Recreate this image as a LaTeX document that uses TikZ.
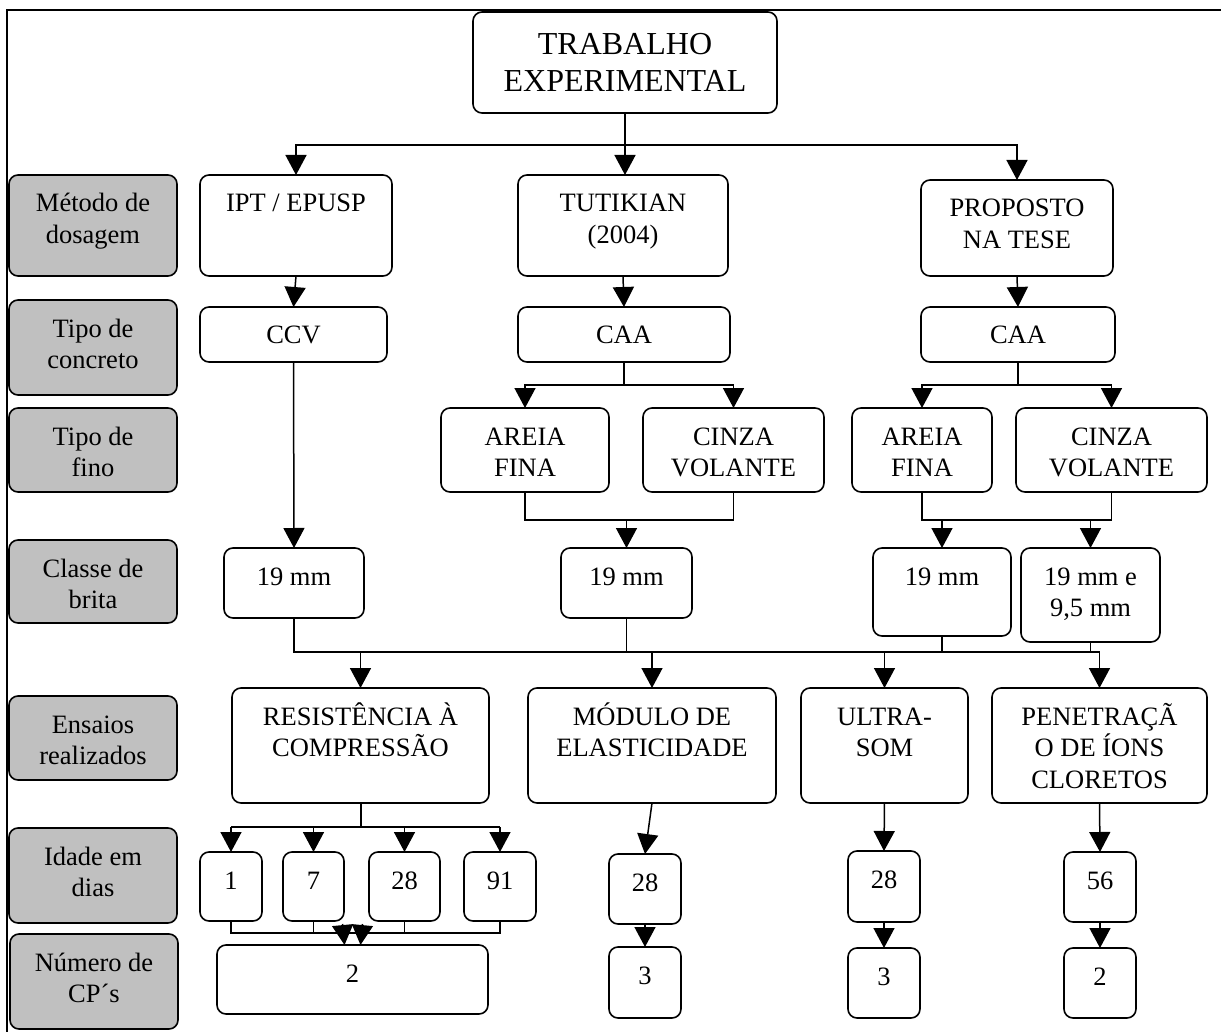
\documentclass[tikz,border=0pt]{standalone}
\usepackage{fontspec}
\setmainfont{Liberation Serif}
\usetikzlibrary{arrows.meta}
\definecolor{lblgray}{RGB}{192,192,192}
\tikzset{
  box/.style={draw=black, line width=1.6pt, rounded corners=9pt, inner sep=0pt, outer sep=0pt, fill=white},
  graybox/.style={box, fill=lblgray},
  txt/.style={anchor=north, inner sep=0pt, outer sep=0pt, align=center, font=\fontsize{26.5}{31.5}\selectfont},
  ln/.style={draw=black, line width=1.5pt},
  bus/.style={draw=black, line width=2.6pt},
  arr/.style={-{Triangle[length=20pt,width=21pt]}}
}
\newcommand\mkbox[7]{%
  \node[box,#6,minimum width={(#4-#2)*1pt},minimum height={(#5-#3)*1pt}] (#1) at ({(#2+#4)/2},{(#3+#5)/2}) {};
  \node[txt] (#1t) at ([yshift=-13pt]#1.north) {\rule{0pt}{24pt}#7};
}
\begin{document}
\begin{tikzpicture}[x=1pt,y=-1pt]
\useasboundingbox (0,0) rectangle (1221,1032);
% frame
\draw[line width=2pt] (7,1032) -- (7,10) -- (1221,10);

% title
\node[box,minimum width=304pt,minimum height=101pt] (title) at (625,62.5) {};
\node[txt,font=\fontsize{32}{37}\selectfont] (titlet) at ([yshift=-15pt]title.north) {\rule{0pt}{28pt}TRABALHO\\EXPERIMENTAL};

% gray labels
\mkbox{g1}{9}{175}{177}{276}{graybox}{Método de\\dosagem}
\mkbox{g2}{9}{300}{177}{395}{graybox}{Tipo de\\concreto}
\mkbox{g3}{9}{408}{177}{492}{graybox}{Tipo de\\fino}
\mkbox{g4}{9}{540}{177}{623}{graybox}{Classe de\\brita}
\mkbox{g5}{9}{696}{177}{780}{graybox}{Ensaios\\realizados}
\mkbox{g6}{9}{828}{177}{923}{graybox}{Idade em\\dias}
\mkbox{g7}{10}{934}{178}{1029}{graybox}{Número de\\CP´s}

% row 1
\mkbox{ipt}{200}{175}{392}{276}{}{IPT / EPUSP}
\mkbox{tut}{518}{175}{728}{276}{}{TUTIKIAN\\(2004)}
\mkbox{prop}{921}{180}{1113}{276}{}{PROPOSTO\\NA TESE}
% row 2
\mkbox{ccv}{200}{307}{387}{362}{}{CCV}
\mkbox{caa1}{518}{307}{730}{362}{}{CAA}
\mkbox{caa2}{921}{307}{1115}{362}{}{CAA}
% row 3
\mkbox{af1}{441}{408}{609}{492}{}{AREIA\\FINA}
\mkbox{cv1}{643}{408}{824}{492}{}{CINZA\\VOLANTE}
\mkbox{af2}{852}{408}{992}{492}{}{AREIA\\FINA}
\mkbox{cv2}{1016}{408}{1207}{492}{}{CINZA\\VOLANTE}
% row 4
\mkbox{b1}{224}{548}{364}{618}{}{19 mm}
\mkbox{b2}{561}{548}{692}{618}{}{19 mm}
\mkbox{b3}{873}{548}{1011}{636}{}{19 mm}
\mkbox{b4}{1021}{548}{1160}{642}{}{19 mm e\\9,5 mm}
% row 5
\mkbox{e1}{232}{688}{489}{803}{}{RESISTÊNCIA À\\COMPRESSÃO}
\mkbox{e2}{528}{688}{776}{803}{}{MÓDULO DE\\ELASTICIDADE}
\mkbox{e3}{801}{688}{968}{803}{}{ULTRA-\\SOM}
\mkbox{e4}{992}{688}{1207}{803}{}{PENETRAÇÃ\\O DE ÍONS\\CLORETOS}
% row 6
\mkbox{d1}{200}{852}{262}{921}{}{1}
\mkbox{d7}{283}{852}{344}{921}{}{7}
\mkbox{d28}{369}{852}{440}{921}{}{28}
\mkbox{d91}{464}{852}{536}{921}{}{91}
\mkbox{m28}{609}{854}{681}{924}{}{28}
\mkbox{u28}{848}{851}{920}{922}{}{28}
\mkbox{p56}{1064}{852}{1136}{922}{}{56}
% row 7
\mkbox{n2}{217}{945}{488}{1014}{}{2}
\mkbox{m3}{609}{947}{681}{1018}{}{3}
\mkbox{u3}{848}{948}{920}{1018}{}{3}
\mkbox{p2}{1064}{948}{1136}{1018}{}{2}

% connectors: title -> methods
\coordinate (j0) at (625,145);
\draw[ln] (title.south) -- (j0);
\draw[ln,arr] (j0) -| (ipt.north);
\draw[ln,arr] (j0) -- (j0 |- tut.north);
\draw[ln,arr] (j0) -| (prop.north);

% methods -> concrete types
\draw[ln,arr] (ipt.south) -- (ccv.north);
\draw[ln,arr] (tut.south) -- (caa1.north);
\draw[ln,arr] (prop.south) -- (caa2.north);
\draw[ln,arr] (ccv.south) -- (b1.north);

% concrete -> fines
\coordinate (j1) at (624,385);
\draw[ln] (caa1.south) -- (j1);
\draw[ln,arr] (j1) -| (af1.north);
\draw[ln,arr] (j1) -| (cv1.north);
\coordinate (j2) at (1018,385);
\draw[ln] (caa2.south) -- (j2);
\draw[ln,arr] (j2) -| (af2.north);
\draw[ln,arr] (j2) -| (cv2.north);

% fines -> brita
\coordinate (y520) at (0,520);
\draw[ln] (af1.south) |- (y520 -| cv1.south) -- (cv1.south);
\draw[ln,arr] (y520 -| b2.north) -- (b2.north);
\draw[ln] (af2.south) |- (y520 -| cv2.south) -- (cv2.south);
\draw[ln,arr] (y520 -| b3.north) -- (b3.north);
\draw[ln,arr] (y520 -| b4.north) -- (b4.north);

% brita -> tests (bus)
\coordinate (y652) at (0,652);
\draw[bus] (b1.south) |- (y652 -| e4.north);
\draw[ln] (b2.south) -- (y652 -| b2.south);
\draw[ln] (b3.south) -- (y652 -| b3.south);
\draw[ln] (b4.south) -- (y652 -| b4.south);
\draw[ln,arr] (y652 -| e1.north) -- (e1.north);
\draw[ln,arr] (y652 -| e2.north) -- (e2.north);
\draw[ln,arr] (y652 -| e3.north) -- (e3.north);
\draw[ln,arr] (y652 -| e4.north) -- (e4.north);

% compressao -> ages
\coordinate (y827) at (0,827);
\draw[ln,line width=2pt] (e1.south) -- (y827 -| e1.south);
\draw[ln,line width=2pt] (y827 -| d1.north) -- (y827 -| d91.north);
\draw[ln,arr] (y827 -| d1.north) -- (d1.north);
\draw[ln,arr] (y827 -| d7.north) -- (d7.north);
\draw[ln,arr] (y827 -| d28.north) -- (d28.north);
\draw[ln,arr] (y827 -| d91.north) -- (d91.north);

% ages -> number 2
\coordinate (y933) at (0,933);
\draw[ln] (d1.south) |- (y933 -| d91.south) -- (d91.south);
\draw[ln] (d7.south) -- (y933 -| d7.south);
\draw[ln] (d28.south) -- (y933 -| d28.south);
\draw[ln,arr] ([xshift=-10pt,yshift=21pt]n2.north) -- ([xshift=-8pt]n2.north);
\draw[ln,arr] ([xshift=10pt,yshift=21pt]n2.north) -- ([xshift=8pt]n2.north);

% other tests
\draw[ln,arr] (e2.south) -- (m28.north);
\draw[ln,arr] (m28.south) -- (m3.north);
\draw[ln,arr] (e3.south) -- (u28.north);
\draw[ln,arr] (u28.south) -- (u3.north);
\draw[ln,arr] (e4.south) -- (p56.north);
\draw[ln,arr] (p56.south) -- (p2.north);
\end{tikzpicture}
\end{document}
